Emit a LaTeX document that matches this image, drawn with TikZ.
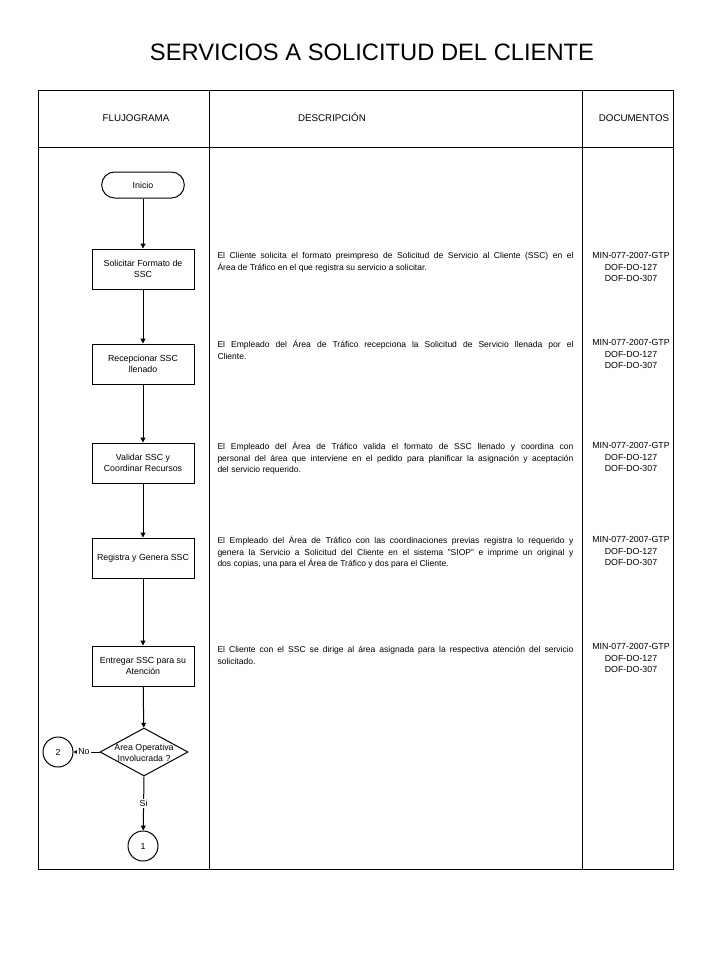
\documentclass[tikz,border=0pt]{standalone}
\usepackage{fontspec}
\setmainfont{Liberation Sans}
\usetikzlibrary{shapes.geometric,arrows.meta}

\tikzset{every picture/.style={line width=0.75pt}}
\tikzset{
  flowarrow/.style={-{Triangle[width=3.6pt,length=3.6pt]}},
  stepbox/.style={draw, rectangle, minimum width=76.5pt, minimum height=30pt, inner sep=1pt, align=center, font=\fontsize{6.6}{8.6}\selectfont},
  startbox/.style={draw, rectangle, rounded corners=9.75pt, minimum width=62pt, minimum height=19.5pt, inner sep=1pt, font=\fontsize{6.6}{8.6}\selectfont},
  decision/.style={draw, diamond, minimum width=66pt, minimum height=36pt, inner sep=0pt},
  decisiontext/.style={align=center, inner sep=0pt, font=\fontsize{6.6}{8.6}\selectfont},
  connector/.style={draw, circle, minimum size=22.5pt, inner sep=0pt, font=\fontsize{6.6}{8.6}\selectfont},
  headtext/.style={anchor=base, inner sep=0.75pt, font=\fontsize{7.3}{8.6}\selectfont},
  descr/.style={anchor=north west, inner sep=0pt, text width=267pt, align=justify, font=\fontsize{6.4}{8.6}\selectfont},
  docs/.style={anchor=north, inner sep=0pt, align=center, font=\fontsize{6.6}{8.6}\selectfont},
  edgetext/.style={fill=white, inner sep=0.75pt, font=\fontsize{6.6}{8.6}\selectfont}
}

\begin{document}
\begin{tikzpicture}[x=0.75pt,y=0.75pt,yscale=-1,xscale=1]
\useasboundingbox (0,0) rectangle (720,960);

% Title
\node[font=\fontsize{17.8}{20}\selectfont] (titulo) at (372,52) {SERVICIOS A SOLICITUD DEL CLIENTE};

%Shape: Table frame
\draw (38,90) rectangle (673,869);
\draw (209,90) -- (209,869);
\draw (582,90) -- (582,869);
\draw (38,147) -- (673,147);

% Header Nodes
\node[headtext] (hflujo) at (136,121) {FLUJOGRAMA};
\node[headtext] (hdescr) at (332,121) {DESCRIPCIÓN};
\node[headtext] (hdocs) at (634,121) {DOCUMENTOS};

%Flow Nodes
\node[startbox] (inicio) at (143,185) {Inicio};
\node[stepbox] (solicitar) at (143,269) {Solicitar Formato de\\SSC};
\node[stepbox] (recepcionar) at (143,364) {Recepcionar SSC\\llenado};
\node[stepbox] (validar) at (143,463) {Validar SSC y\\Coordinar Recursos};
\node[stepbox] (registra) at (143,558) {Registra y Genera SSC};
\node[stepbox] (entregar) at (143,666) {Entregar SSC para su\\Atención};
\node[decision, label={[decisiontext]center:{Área Operativa\\Involucrada ?}}] (area) at (144,752) {};
\node[connector] (dos) at (58,752) {2};
\node[connector] (uno) at (143,846) {1};

%Connectors
\draw[flowarrow] (inicio) -- (solicitar);
\draw[flowarrow] (solicitar) -- (recepcionar);
\draw[flowarrow] (recepcionar) -- (validar);
\draw[flowarrow] (validar) -- (registra);
\draw[flowarrow] (registra) -- (entregar);
\draw[flowarrow] (entregar) -- (area);
\draw[flowarrow] (area.west) -- node[edgetext, pos=0.6] (no) {No} (dos);
\draw[flowarrow] (area.south) -- node[edgetext, pos=0.5] (si) {Si} (uno);

% Description Text Nodes
\node[descr] (dsolicitar) at (217,252) {El Cliente  solicita el formato preimpreso de Solicitud de Servicio al Cliente (SSC) en el\linebreak Área de Tráfico en el que registra su servicio a solicitar.};
\node[descr] (drecepcionar) at (217,340) {El Empleado del Área de Tráfico recepciona la Solicitud de Servicio llenada por el\linebreak Cliente.};
\node[descr] (dvalidar) at (217,442) {El Empleado del Área de Tráfico valida el formato de SSC llenado y coordina con\linebreak personal del área que interviene en el pedido para planificar la asignación y aceptación\linebreak del servicio requerido.};
\node[descr] (dregistra) at (217,536) {El Empleado del Área de Tráfico con las coordinaciones previas registra lo requerido y\linebreak genera la Servicio a Solicitud del Cliente en el sistema "SIOP" e imprime un original y\linebreak dos copias, una para el Área de Tráfico y dos para el  Cliente.};
\node[descr] (dentregar) at (217,646) {El Cliente con el SSC se dirige al área asignada para la respectiva atención del servicio\linebreak solicitado.};

% Document Text Nodes
\node[docs] (ksolicitar) at (631,252) {MIN-077-2007-GTP\\DOF-DO-127\\DOF-DO-307};
\node[docs] (krecepcionar) at (631,339) {MIN-077-2007-GTP\\DOF-DO-127\\DOF-DO-307};
\node[docs] (kvalidar) at (631,442) {MIN-077-2007-GTP\\DOF-DO-127\\DOF-DO-307};
\node[docs] (kregistra) at (631,536) {MIN-077-2007-GTP\\DOF-DO-127\\DOF-DO-307};
\node[docs] (kentregar) at (631,643) {MIN-077-2007-GTP\\DOF-DO-127\\DOF-DO-307};

\end{tikzpicture}
\end{document}
